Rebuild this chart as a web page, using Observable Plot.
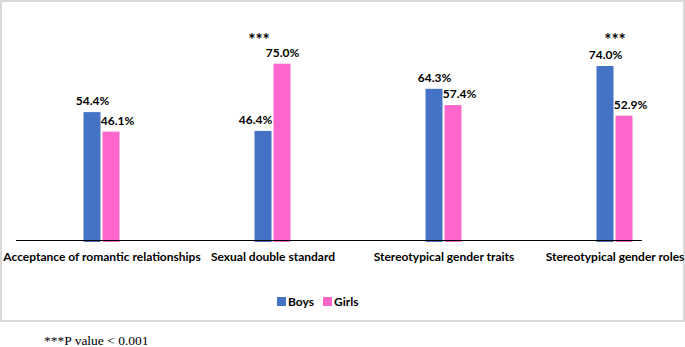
<!DOCTYPE html>
<html>
<head>
<meta charset="utf-8">
<script src="https://cdn.jsdelivr.net/npm/d3@7"></script>
<script src="https://cdn.jsdelivr.net/npm/@observablehq/plot@0.6"></script>
<style>
  html, body { margin: 0; padding: 0; background: #fff; }
  #wrap { position: relative; width: 685px; height: 347px; overflow: hidden; }
  #box { position: absolute; left: 0; top: 0; width: 685px; height: 322px; box-sizing: border-box; border: 2px solid #d9d9d9; }
  #chart { position: absolute; left: 0; top: 0; }
  #legend { position: absolute; left: 277px; top: 294px; display: flex; align-items: center; font-family: Lato, sans-serif; font-weight: bold; font-size: 12px; color: #000; }
  #legend .sw { display: inline-block; width: 9px; height: 9px; margin-right: 2px; }
  #legend .item { display: flex; align-items: center; margin-right: 9px; }
  #note { position: absolute; left: 44px; top: 333px; font-family: "Liberation Serif", "Times New Roman", serif; font-size: 13.5px; color: #000; }
</style>
</head>
<body>
<div id="wrap">
  <div id="box"></div>
  <div id="chart"></div>
  <div id="legend"></div>
  <div id="note">***P value &lt; 0.001</div>
</div>
<script>
const categories = [
  "Acceptance of romantic relationships",
  "Sexual double standard",
  "Stereotypical gender traits",
  "Stereotypical gender roles"
];
const series = ["Boys", "Girls"];
const boys = [54.4, 46.4, 64.3, 74.0];
const girls = [46.1, 75.0, 57.4, 52.9];
const significant = ["Sexual double standard", "Stereotypical gender roles"];
const colors = ["#4472C4", "#FF66CC"];

const boysRows = categories.map((c, i) => ({category: c, value: boys[i], shorter: boys[i] < girls[i]}));
const girlsRows = categories.map((c, i) => ({category: c, value: girls[i], shorter: girls[i] < boys[i]}));
const fmt = d => d.value.toFixed(1) + "%";

const labelStyle = {fontWeight: "bold", fontSize: 12, fill: "#000", dy: -11};
const starStyle = {frameAnchor: "top", dy: 13, text: () => "***", fontWeight: "bold", fontSize: 17, fill: "#000"};

const chart = Plot.plot({
  width: 685,
  height: 280,
  marginLeft: 16,
  marginRight: 43,
  marginTop: 20,
  marginBottom: 40,
  style: {fontFamily: "Lato, sans-serif", background: "transparent"},
  x: {type: "band", domain: categories, range: [15.5, 699.5], padding: 0},
  y: {domain: [0, 80], range: [240, 240 - 80 * 2.351], axis: null},
  marks: [
    Plot.barY(boysRows, {x: "category", y: "value", fill: colors[0], insetLeft: 67.5, insetRight: 86.5, insetBottom: -2}),
    Plot.barY(girlsRows, {x: "category", y: "value", fill: colors[1], insetLeft: 86.5, insetRight: 67.5, insetBottom: -2}),
    Plot.ruleY([0], {stroke: "#000", strokeWidth: 1.2}),
    Plot.text(boysRows.filter(d => !d.shorter), {x: "category", y: "value", text: fmt, dx: -9.5, ...labelStyle}),
    Plot.text(boysRows.filter(d => d.shorter), {x: "category", y: "value", text: fmt, dx: -17.5, ...labelStyle}),
    Plot.text(girlsRows.filter(d => !d.shorter), {x: "category", y: "value", text: fmt, dx: 9.5, ...labelStyle}),
    Plot.text(girlsRows.filter(d => d.shorter), {x: "category", y: "value", text: fmt, dx: 15.5, ...labelStyle}),
    Plot.text(significant.slice(0, 1), {x: d => d, dx: -14, ...starStyle}),
    Plot.text(significant.slice(1), {x: d => d, dx: 0, ...starStyle}),
    Plot.axisX({tickSize: 0, tickPadding: 12, fontWeight: "bold", fontSize: 12, fill: "#000", label: null})
  ]
});
document.getElementById("chart").appendChild(chart);

const legend = document.getElementById("legend");
series.forEach((s, i) => {
  const item = document.createElement("span");
  item.className = "item";
  const sw = document.createElement("span");
  sw.className = "sw";
  sw.style.background = colors[i];
  item.appendChild(sw);
  item.appendChild(document.createTextNode(s));
  legend.appendChild(item);
});
</script>
</body>
</html>
